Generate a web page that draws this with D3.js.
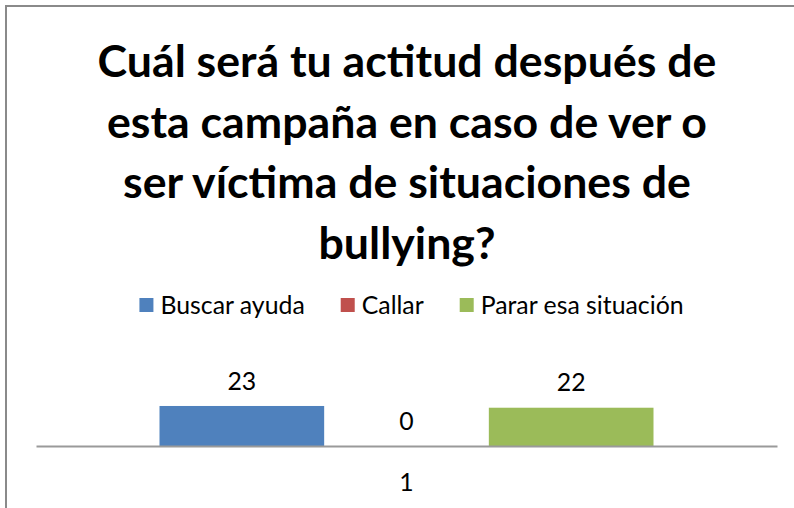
<!DOCTYPE html>
<html>
<head>
<meta charset="utf-8">
<script src="https://cdn.jsdelivr.net/npm/d3@7"></script>
<style>
  body { margin: 0; background: #fff; }
  svg { display: block; }
  text { font-family: Lato, "Open Sans", sans-serif; fill: #000; }
</style>
</head>
<body>
<div id="chart"></div>
<script>
// chart data
var titleLines = ["Cuál será tu actitud después de", "esta campaña en caso de ver o", "ser víctima de situaciones de", "bullying?"];
var categories = ["1"];
var seriesNames = ["Buscar ayuda", "Callar", "Parar esa situación"];
var seriesValues = [23, 0, 22];
var seriesColors = ["#4F81BD", "#C0504D", "#9BBB59"];

var W = 794, H = 508;
var svg = d3.select("#chart").append("svg").attr("width", W).attr("height", H);

// outer frame (runs off the right and bottom edge)
svg.append("rect").attr("x", 6).attr("y", 6).attr("width", 820).attr("height", 540)
  .attr("fill", "none").attr("stroke", "#8a8a8a").attr("stroke-width", 2);

// title, sized so the first line is about 619px wide
var title = svg.append("g");
var tl = title.selectAll("text").data(titleLines).enter().append("text")
  .attr("x", 407).attr("y", function(d, i){ return 77 + i * 60.5; })
  .attr("text-anchor", "middle").style("font-weight", "bold").style("font-size", "40px")
  .text(function(d){ return d; });
var w0 = tl.node().getComputedTextLength();
var titleSize = 40 * 619 / w0;
tl.style("font-size", titleSize + "px");

// label size fitted to the legend text width
var probe = svg.append("text").style("font-size", "20px").text("Parar esa situación");
var labelSize = 20 * 203 / probe.node().getComputedTextLength();
probe.remove();

// legend
var legend = svg.append("g");
var items = [];
var lx = 0;
seriesNames.forEach(function(name, i){
  var g = legend.append("g").attr("transform", "translate(" + lx + ",0)");
  g.append("rect").attr("x", 0).attr("y", -7).attr("width", 14).attr("height", 14).attr("fill", seriesColors[i]);
  var t = g.append("text").attr("x", 21).attr("y", 0).attr("dy", "0.35em")
    .style("font-size", labelSize + "px").text(name);
  lx += 21 + t.node().getComputedTextLength() + 36;
});
var legendW = lx - 36;
legend.attr("transform", "translate(" + (411.5 - legendW / 2) + ",305)");

// scales
var x0 = d3.scaleBand().domain(categories).range([36, 777]);
var catW = x0.bandwidth();
var barW = catW / 4.5; // gap width 150%
var x1 = d3.scaleBand().domain(seriesNames)
  .range([0.75 * barW, catW - 0.75 * barW]);
var y = d3.scaleLinear().domain([0, 25]).range([446, 402.5]);

var plot = svg.append("g");
var cat = plot.selectAll(".cat").data(categories).enter().append("g")
  .attr("transform", function(d){ return "translate(" + x0(d) + ",0)"; });

cat.selectAll("rect").data(seriesValues).enter().append("rect")
  .attr("x", function(d, i){ return x1(seriesNames[i]); })
  .attr("y", function(d){ return y(d); })
  .attr("width", x1.bandwidth())
  .attr("height", function(d){ return y(0) - y(d); })
  .attr("fill", function(d, i){ return seriesColors[i]; });

cat.selectAll(".val").data(seriesValues).enter().append("text")
  .attr("class", "val")
  .attr("x", function(d, i){ return x1(seriesNames[i]) + x1.bandwidth() / 2; })
  .attr("y", function(d){ return y(d) - 25; })
  .attr("dy", "0.35em").attr("text-anchor", "middle")
  .style("font-size", labelSize + "px")
  .text(function(d){ return d; });

// category axis
var xAxis = d3.axisBottom(x0).tickSize(0).tickPadding(0);
var ax = svg.append("g").attr("transform", "translate(0," + y(0) + ")").call(xAxis);
ax.select(".domain").attr("stroke", "#9a9a9a").attr("stroke-width", 2);
ax.selectAll(".tick text").attr("y", 36).attr("dy", "0.35em")
  .style("font-family", "Lato, 'Open Sans', sans-serif")
  .style("font-size", labelSize + "px").attr("fill", "#000");
</script>
</body>
</html>
